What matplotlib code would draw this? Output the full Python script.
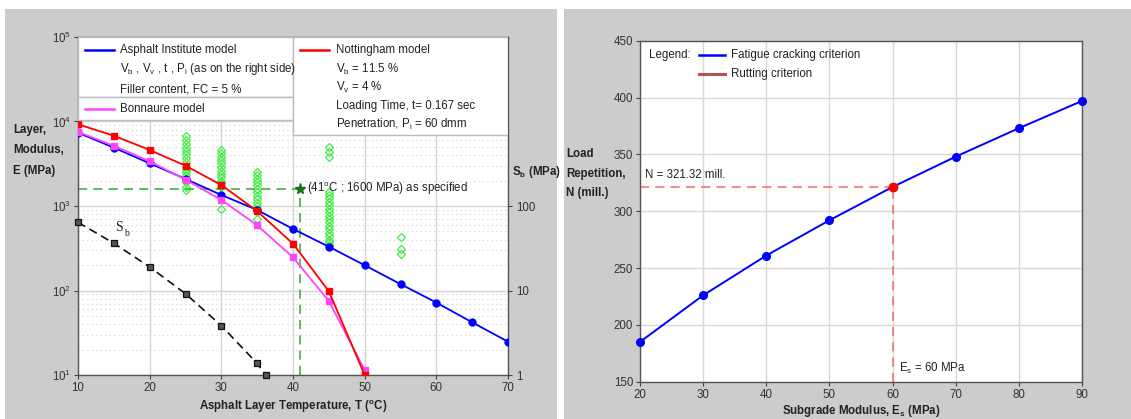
import matplotlib
matplotlib.use("Agg")
import matplotlib.pyplot as plt
from matplotlib.patches import Rectangle
from matplotlib.ticker import LogLocator, NullFormatter, FixedLocator

plt.rcParams['font.family'] = ['Liberation Sans', 'DejaVu Sans']
plt.rcParams['mathtext.fontset'] = 'custom'
plt.rcParams['mathtext.rm'] = 'Liberation Sans'
plt.rcParams['mathtext.it'] = 'Liberation Sans:italic'
plt.rcParams['mathtext.bf'] = 'Liberation Sans:bold'

# ---------------- data: asphalt layer modulus vs temperature ----------------
temp_ai = [10, 15, 20, 25, 30, 35, 40, 45, 50, 55, 60, 65, 70]
modulus_ai = [7380, 4900, 3200, 2090, 1350, 897, 535, 330, 199, 119, 72, 42, 24.8]

temp_models = [10, 15, 20, 25, 30, 35, 40, 45, 50]
modulus_nottingham = [9270, 6790, 4600, 3000, 1770, 870, 358, 98, 10]
modulus_bonnaure = [7510, 5170, 3380, 2050, 1180, 591, 247, 75, 11.5]

temp_sb = [10, 15, 20, 25, 30, 35, 36.2]
stiffness_sb = [64.1, 36.2, 19.0, 9.16, 3.83, 1.37, 1.0]

# measured moduli (scatter) per temperature
meas_25 = [6700, 6000, 5400, 4900, 4500, 4100, 3700, 3300, 2900, 2700, 2500, 2300, 2100, 1900, 1700, 1550]
meas_30 = [4600, 4200, 3800, 3500, 3200, 2900, 2600, 2400, 2200, 2000, 1850, 1700, 920]
meas_35 = [2550, 2300, 2100, 1900, 1750, 1600, 1450, 1300, 1200, 1100, 1000, 930, 870, 700]
meas_45 = [4990, 4360, 3800, 1480, 1350, 1230, 1120, 1020, 930, 850, 770, 700, 640, 580,
           530, 480, 440, 400, 370, 345]
meas_55 = [430, 310, 270]

spec_temp = 41
spec_modulus = 1600

x_ticks_left = [10, 20, 30, 40, 50, 60, 70]
y_ticks_left = [1e1, 1e2, 1e3, 1e4, 1e5]
y_ticklabels_left = [r'$10^{1}$', r'$10^{2}$', r'$10^{3}$', r'$10^{4}$', r'$10^{5}$']
sb_ticks = [1, 10, 100]
sb_ticklabels = ['1', '10', '100']

# ---------------- data: load repetitions vs subgrade modulus ----------------
subgrade_modulus = [20, 30, 40, 50, 60, 70, 80, 90]
load_repetitions = [185, 226, 261, 292, 321.32, 348, 373, 397]
design_es = 60
design_n = 321.32
x_ticks_right = [20, 30, 40, 50, 60, 70, 80, 90]
y_ticks_right = [150, 200, 250, 300, 350, 400, 450]

W, H = 1131, 419
fig = plt.figure(figsize=(W / 100, H / 100), dpi=100)
fig.patch.set_facecolor('white')


def fx(px):
    return px / W


def fy(py):
    return 1 - py / H


# gray panel backgrounds
fig.patches.append(Rectangle((fx(5), 0), fx(557) - fx(5), fy(9), transform=fig.transFigure,
                             facecolor='#cccccc', edgecolor='none', zorder=-5))
fig.patches.append(Rectangle((fx(564), 0), 1 - fx(564), fy(9), transform=fig.transFigure,
                             facecolor='#cccccc', edgecolor='none', zorder=-5))

TXT = '#222222'
TICK = '#333333'
FS = 8.3

# ================= left chart =================
ax = fig.add_axes([fx(78), fy(375), fx(508) - fx(78), fy(37) - fy(375)])
ax.set_facecolor('white')
ax.set_yscale('log')
ax.set_xlim(10, 70)
ax.set_ylim(10, 1e5)
ax.set_xticks(x_ticks_left)
ax.set_yticks(y_ticks_left)
ax.set_yticklabels(y_ticklabels_left)
ax.yaxis.set_minor_locator(LogLocator(base=10, subs=range(2, 10)))
ax.yaxis.set_minor_formatter(NullFormatter())
ax.tick_params(axis='y', which='minor', length=0)
ax.tick_params(axis='both', which='major', length=3, color='#444444', labelsize=FS,
               labelcolor=TICK, pad=2)
ax.set_axisbelow(True)
ax.grid(which='major', color='#d4d4d4', lw=1.0)
ax.grid(which='minor', axis='y', color='#d0d0d0', lw=0.8, linestyle=(0, (1, 3)))
for s in ax.spines.values():
    s.set_color('#555555')
    s.set_linewidth(1.0)

# measured moduli
for t, vals in [(25, meas_25), (30, meas_30), (35, meas_35), (45, meas_45), (55, meas_55)]:
    ax.plot([t] * len(vals), vals, linestyle='none', marker='D', ms=4.4, mfc='none',
            mec='#44ee44', mew=0.9, zorder=2)

ax.plot(temp_ai, modulus_ai, color='#0000ff', lw=1.3, marker='o', ms=5, zorder=3)
ax.plot(temp_models, modulus_bonnaure, color='#ff44ff', lw=1.3, marker='s', ms=4.5, zorder=3)
ax.plot(temp_models, modulus_nottingham, color='#ff0000', lw=1.3, marker='s', ms=4.5, zorder=3)

# specified point
ax.plot([10, spec_temp], [spec_modulus, spec_modulus], color='#33aa33', lw=1.1,
        linestyle=(0, (6, 4)), zorder=2)
ax.plot([spec_temp, spec_temp], [10, spec_modulus], color='#33aa33', lw=1.1,
        linestyle=(0, (6, 4)), zorder=2)
ax.plot([spec_temp], [spec_modulus], marker='*', ms=8, color='#117711', zorder=4)
ax.text(spec_temp + 0.9, spec_modulus, r'(41$^\mathrm{o}$C ; 1600 MPa) as specified',
        fontsize=FS, color=TXT, va='center', ha='left', zorder=4)

# legend boxes
box_kw = dict(transform=ax.transAxes, facecolor='white', edgecolor='#bbbbbb', lw=1.0,
              zorder=5)
ax.add_patch(Rectangle((0, 0.8225), 0.5, 1 - 0.8225, **box_kw))
ax.add_patch(Rectangle((0, 0.7544), 0.5, 0.8225 - 0.7544, **box_kw))
ax.add_patch(Rectangle((0.5, 0.710), 0.5, 1 - 0.710, **box_kw))

lk = dict(transform=ax.transAxes, lw=1.8, zorder=6, clip_on=False)
tk = dict(transform=ax.transAxes, fontsize=FS, color=TXT, va='center', ha='left', zorder=6)
ax.plot([0.016, 0.084], [0.9615, 0.9615], color='#0000ff', **lk)
ax.text(0.098, 0.9615, 'Asphalt Institute model', **tk)
ax.text(0.098, 0.905, r'V$_\mathrm{b}$ , V$_\mathrm{v}$ , t , P$_\mathrm{i}$ (as on the right side)', **tk)
ax.text(0.098, 0.846, 'Filler content, FC = 5 %', **tk)
ax.plot([0.016, 0.084], [0.787, 0.787], color='#ff44ff', **lk)
ax.text(0.098, 0.787, 'Bonnaure model', **tk)

ax.plot([0.516, 0.584], [0.9615, 0.9615], color='#ff0000', **lk)
ax.text(0.600, 0.9615, 'Nottingham model', **tk)
ax.text(0.600, 0.905, r'V$_\mathrm{b}$ = 11.5 %', **tk)
ax.text(0.600, 0.850, r'V$_\mathrm{v}$ = 4 %', **tk)
ax.text(0.600, 0.796, 'Loading Time, t= 0.167 sec', **tk)
ax.text(0.600, 0.740, r'Penetration, P$_\mathrm{i}$ = 60 dmm', **tk)

# bitumen stiffness on the secondary axis
ax2 = ax.twinx()
ax2.set_yscale('log')
ax2.set_ylim(1, 1e4)
ax2.yaxis.set_major_locator(FixedLocator(sb_ticks))
ax2.set_yticklabels(sb_ticklabels)
ax2.yaxis.set_minor_locator(FixedLocator([]))
ax2.tick_params(axis='y', which='major', length=3, color='#444444', labelsize=FS,
                labelcolor=TICK, pad=3)
for s in ax2.spines.values():
    s.set_visible(False)
ax2.plot(temp_sb, stiffness_sb, color='#111111', lw=1.2, linestyle=(0, (5, 3)),
         marker='s', ms=3.8, mfc='#555555', mec='#111111', mew=0.9, clip_on=False)
ax2.text(15.2, 55, 'S', fontsize=10, family=['Liberation Serif', 'DejaVu Serif'],
         color=TXT, va='center', ha='left')
ax2.text(16.45, 47, 'b', fontsize=7, family=['Liberation Serif', 'DejaVu Serif'],
         color=TXT, va='center', ha='left')

fig.text(fx(13), fy(130), 'Layer,', fontsize=FS, weight='bold', color=TXT, va='center')
fig.text(fx(13), fy(150), 'Modulus,', fontsize=FS, weight='bold', color=TXT, va='center')
fig.text(fx(13), fy(171), 'E (MPa)', fontsize=FS, weight='bold', color=TXT, va='center')
fig.text(fx(512), fy(172), r'S$_\mathbf{b}$ (MPa)', fontsize=FS, weight='bold', color=TXT,
         va='center')
fig.text(fx(293), fy(407), r'Asphalt Layer Temperature, T ($^\mathbf{o}$C)', fontsize=FS,
         weight='bold', color=TXT, va='center', ha='center')

# ================= right chart =================
bx = fig.add_axes([fx(640), fy(381.7), fx(1082) - fx(640), fy(40.7) - fy(381.7)])
bx.set_facecolor('white')
bx.set_xlim(20, 90)
bx.set_ylim(150, 450)
bx.set_xticks(x_ticks_right)
bx.set_yticks(y_ticks_right)
bx.tick_params(axis='both', length=3, color='#444444', labelsize=FS, labelcolor=TICK, pad=2)
bx.set_axisbelow(True)
bx.grid(color='#d8d8d8', lw=1.0)
for s in bx.spines.values():
    s.set_color('#555555')
    s.set_linewidth(1.0)

bx.plot([20, design_es], [design_n, design_n], color='#ff6666', lw=1.1,
        linestyle=(0, (6, 4)), zorder=2)
bx.plot([design_es, design_es], [150, design_n], color='#ff6666', lw=1.1,
        linestyle=(0, (6, 4)), zorder=2)
bx.plot(subgrade_modulus, load_repetitions, color='#0000ff', lw=1.4, marker='o', ms=5.5,
        zorder=3, clip_on=False)
bx.plot([design_es], [design_n], marker='o', ms=6, color='#ff0000', zorder=4)

bx.text(20.8, 332, 'N = 321.32 mill.', fontsize=FS, color=TXT, va='center', ha='left')
bx.text(61.0, 162, r'E$_\mathrm{s}$ = 60 MPa', fontsize=FS, color=TXT, va='center', ha='left')

bx.text(0.02, 0.958, 'Legend:', transform=bx.transAxes, fontsize=FS, color=TXT, va='center')
bx.plot([0.1335, 0.192], [0.958, 0.958], transform=bx.transAxes, color='#0000ff', lw=1.8)
bx.text(0.206, 0.958, 'Fatigue cracking criterion', transform=bx.transAxes, fontsize=FS,
        color=TXT, va='center')
bx.plot([0.1335, 0.192], [0.902, 0.902], transform=bx.transAxes, color='#b05555', lw=2.2)
bx.text(0.206, 0.902, 'Rutting criterion', transform=bx.transAxes, fontsize=FS,
        color=TXT, va='center')

fig.text(fx(566), fy(154), 'Load', fontsize=FS, weight='bold', color=TXT, va='center')
fig.text(fx(566), fy(174), 'Repetition,', fontsize=FS, weight='bold', color=TXT, va='center')
fig.text(fx(566), fy(193), 'N (mill.)', fontsize=FS, weight='bold', color=TXT, va='center')
fig.text(fx(861), fy(411), r'Subgrade Modulus, E$_\mathbf{s}$ (MPa)', fontsize=FS,
         weight='bold', color=TXT, va='center', ha='center')

fig.savefig('out.png', dpi=100)
